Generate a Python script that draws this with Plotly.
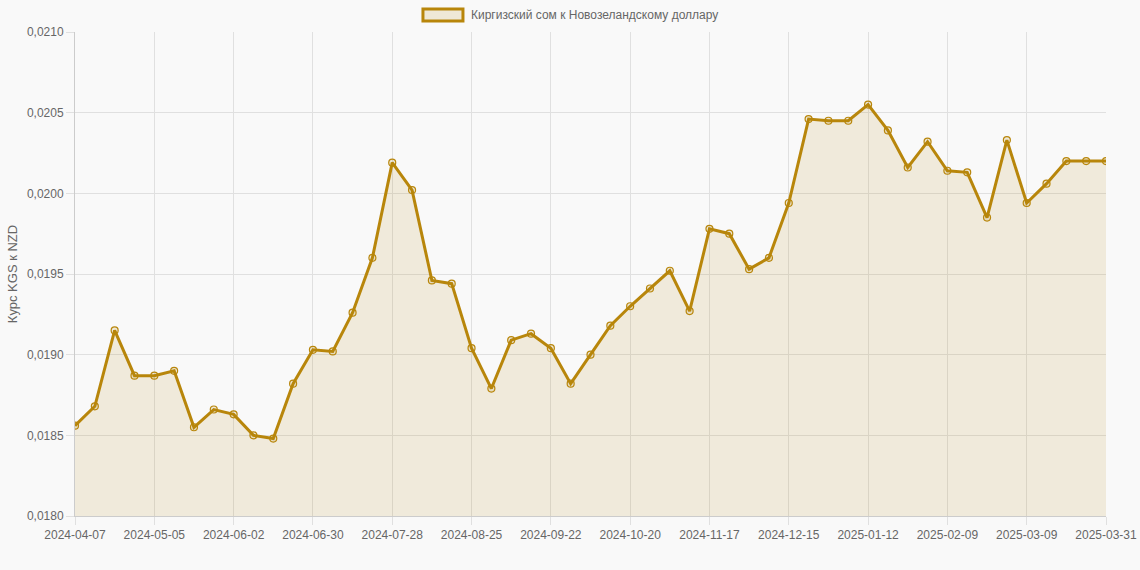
import datetime as dt
import plotly.graph_objects as go

# weekly dates, the last point is a day after the final week
start = dt.date(2024, 4, 7)
dates = [(start + dt.timedelta(days=7 * i)).isoformat() for i in range(52)] + ["2025-03-31"]

rates = [
    0.01856, 0.01868, 0.01915, 0.01887, 0.01887, 0.01890, 0.01855, 0.01866,
    0.01863, 0.01850, 0.01848, 0.01882, 0.01903, 0.01902, 0.01926, 0.01960,
    0.02019, 0.02002, 0.01946, 0.01944, 0.01904, 0.01879, 0.01909, 0.01913,
    0.01904, 0.01882, 0.01900, 0.01918, 0.01930, 0.01941, 0.01952, 0.01927,
    0.01978, 0.01975, 0.01953, 0.01960, 0.01994, 0.02046, 0.02045, 0.02045,
    0.02055, 0.02039, 0.02016, 0.02032, 0.02014, 0.02013, 0.01985, 0.02033,
    0.01994, 0.02006, 0.02020, 0.02020, 0.02020,
]

tick_dates = dates[::4] + [dates[-1]]
series_name = "Киргизский сом к Новозеландскому доллару"

line_color = "#b8860b"
fill_color = "rgba(184,134,11,0.12)"
grid_color = "#e0e0e0"
text_color = "#666666"
bg_color = "#f9f9f9"

fig = go.Figure()
fig.add_trace(go.Scatter(
    x=dates, y=rates, name=series_name,
    mode="lines+markers",
    line=dict(color=line_color, width=3),
    marker=dict(size=7, color="rgba(184,134,11,0.15)",
                line=dict(color=line_color, width=1.2)),
    fill="tozeroy", fillcolor=fill_color,
    showlegend=False,
))

# chart.js style legend box above the plot
fig.add_shape(type="rect", xref="paper", yref="paper",
              x0=0.3375, x1=0.3763, y0=1.0227, y1=1.0475,
              line=dict(color=line_color, width=3), fillcolor="rgba(184,134,11,0.15)")
fig.add_annotation(text=series_name, xref="paper", yref="paper",
                   x=0.3821, y=1.0351, xanchor="left", yanchor="middle",
                   showarrow=False, font=dict(size=12, color=text_color))

fig.update_layout(
    width=1140, height=570,
    margin=dict(l=75, r=34, t=32, b=54),
    paper_bgcolor=bg_color, plot_bgcolor=bg_color,
    font=dict(family="Liberation Sans, Arial, sans-serif", size=12, color=text_color),
    separators=", ",
)
fig.update_xaxes(
    type="category", tickvals=tick_dates, ticktext=tick_dates,
    showgrid=True, gridcolor=grid_color, gridwidth=1,
    ticks="outside", ticklen=8, tickcolor=grid_color,
    showline=True, linecolor="#cccccc", zeroline=False,
    range=[0, len(dates) - 1], automargin=False,
)
fig.update_yaxes(
    range=[0.018, 0.021], dtick=0.0005, tickformat=".4f",
    showgrid=True, gridcolor=grid_color, gridwidth=1,
    ticks="outside", ticklen=8, tickcolor=grid_color,
    showline=True, linecolor="#cccccc", zeroline=False, automargin=False,
    title=dict(text="Курс KGS к NZD", font=dict(size=13, color=text_color), standoff=6),
)

fig.write_html(
    "out.html",
    config={"displayModeBar": False},
    post_script="document.body.style.margin='0';document.body.style.background='%s';" % bg_color,
)
